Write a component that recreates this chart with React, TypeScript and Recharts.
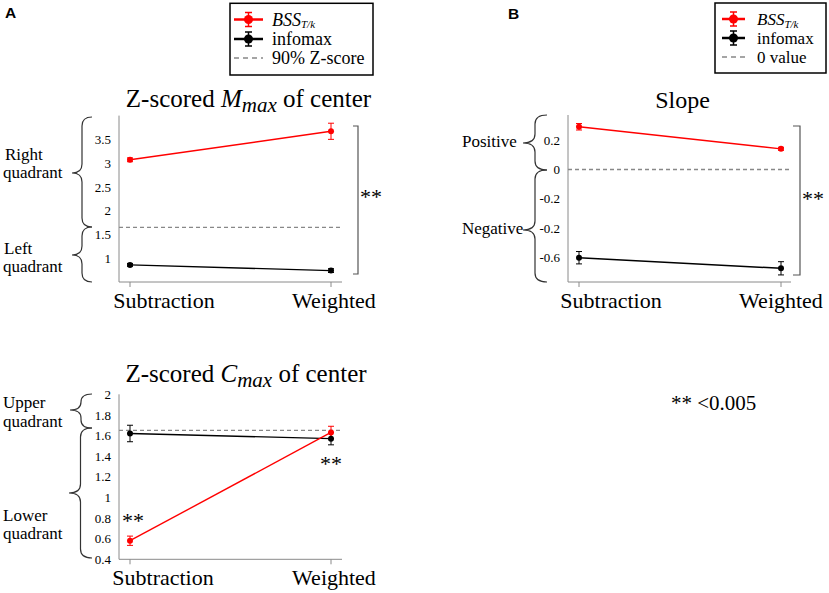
import React from 'react';
import { LineChart, Line, XAxis, YAxis, ReferenceLine, ErrorBar } from 'recharts';

// conditions on the x axis
const categories = ['Subtraction', 'Weighted'];

// Z-scored Mmax of center
const mmaxBss = [3.07, 3.67];
const mmaxBssErr = [0.04, 0.17];
const mmaxInfomax = [0.86, 0.74];
const mmaxInfomaxErr = [0.03, 0.04];
const mmaxTicks = [1, 1.5, 2, 2.5, 3, 3.5];

// Slope
const slopeBss = [0.29, 0.14];
const slopeBssErr = [0.022, 0.01];
const slopeInfomax = [-0.6, -0.672];
const slopeInfomaxErr = [0.042, 0.045];
const slopeTicks = [-0.6, -0.4, -0.2, 0, 0.2];
// the original figure prints "-0.2" twice
const slopeTickLabels = ['-0.6', '-0.2', '-0.2', '0', '0.2'];

// Z-scored Cmax of center
const cmaxBss = [0.58, 1.63];
const cmaxBssErr = [0.045, 0.06];
const cmaxInfomax = [1.62, 1.57];
const cmaxInfomaxErr = [0.08, 0.06];
const cmaxTicks = [0.4, 0.6, 0.8, 1, 1.2, 1.4, 1.6, 1.8, 2];

const zThreshold = 1.65;

const build = (bss: number[], bssErr: number[], info: number[], infoErr: number[]) =>
  categories.map((name, i) => ({ name, bss: bss[i], bssErr: bssErr[i], info: info[i], infoErr: infoErr[i] }));

const mmaxData = build(mmaxBss, mmaxBssErr, mmaxInfomax, mmaxInfomaxErr);
const slopeData = build(slopeBss, slopeBssErr, slopeInfomax, slopeInfomaxErr);
const cmaxData = build(cmaxBss, cmaxBssErr, cmaxInfomax, cmaxInfomaxErr);

const W = 829;
const H = 593;
const SERIF = 'Liberation Serif, Tinos, Times New Roman, DejaVu Serif, serif';
const SANS = 'Liberation Sans, Arimo, Arial, DejaVu Sans, sans-serif';
const AXIS = '#8a8a8a';

const makeTick = (shifts: number[]) => (props: any) => {
  const { x, y, payload, index } = props;
  return (
    <text x={x + (shifts[index] || 0)} y={y} dy="0.71em" textAnchor="middle" fontSize={22} fill="#000" style={{ fontFamily: SERIF }}>
      {payload.value}
    </text>
  );
};

interface PanelProps {
  data: any[];
  margin: { top: number; right: number; bottom: number; left: number };
  domain: [number, number];
  ticks: number[];
  refY: number;
  pad: { left: number; right: number };
  shifts: number[];
  xHeight: number;
  fmt?: (v: number, i: number) => string;
}

const Panel: React.FC<PanelProps> = ({ data, margin, domain, ticks, refY, pad, shifts, xHeight, fmt }) => (
  <div style={{ position: 'absolute', left: 0, top: 0 }}>
    <LineChart width={W} height={H} data={data} margin={margin}>
      <XAxis
        dataKey="name"
        padding={pad}
        stroke={AXIS}
        tickSize={5}
        tickMargin={5}
        height={xHeight}
        tick={makeTick(shifts)}
        interval={0}
      />
      <YAxis
        type="number"
        domain={domain}
        ticks={ticks}
        interval={0}
        allowDataOverflow
        width={40}
        stroke={AXIS}
        tickLine={false}
        tickSize={0}
        tickMargin={8}
        tick={{ fontSize: 13, fill: '#000', style: { fontFamily: SERIF } }}
        tickFormatter={fmt}
      />
      <ReferenceLine y={refY} stroke="#888" strokeDasharray="4 3" strokeWidth={1.4} />
      <Line
        type="linear"
        dataKey="info"
        stroke="#000"
        strokeWidth={1.4}
        dot={{ r: 3, fill: '#000', stroke: '#000', strokeWidth: 0 }}
        isAnimationActive={false}
      >
        <ErrorBar dataKey="infoErr" width={3} stroke="#000" strokeWidth={1} direction="y" isAnimationActive={false} />
      </Line>
      <Line
        type="linear"
        dataKey="bss"
        stroke="#ff0000"
        strokeWidth={1.4}
        dot={{ r: 3, fill: '#ff0000', stroke: '#ff0000', strokeWidth: 0 }}
        isAnimationActive={false}
      >
        <ErrorBar dataKey="bssErr" width={3} stroke="#ff0000" strokeWidth={1} direction="y" isAnimationActive={false} />
      </Line>
    </LineChart>
  </div>
);

// curly brace opening to the right, tip on the left
const brace = (tip: number, w: number, y1: number, y2: number, ym: number) => {
  const xe = tip + w;
  const xm = tip + w / 2;
  const r = Math.min(9, (ym - y1) / 2, (y2 - ym) / 2);
  return `M${xe} ${y1} Q${xm} ${y1} ${xm} ${y1 + r} L${xm} ${ym - r} Q${xm} ${ym} ${tip} ${ym} Q${xm} ${ym} ${xm} ${ym + r} L${xm} ${y2 - r} Q${xm} ${y2} ${xe} ${y2}`;
};

const LegendIcon: React.FC<{ x1: number; x2: number; y: number; color: string }> = ({ x1, x2, y, color }) => {
  const cx = (x1 + x2) / 2;
  return (
    <g>
      <line x1={x1} x2={x2} y1={y} y2={y} stroke={color} strokeWidth={2.5} />
      <line x1={cx} x2={cx} y1={y - 7} y2={y + 7} stroke={color} strokeWidth={1.5} />
      <line x1={cx - 3.5} x2={cx + 3.5} y1={y - 7} y2={y - 7} stroke={color} strokeWidth={1.5} />
      <line x1={cx - 3.5} x2={cx + 3.5} y1={y + 7} y2={y + 7} stroke={color} strokeWidth={1.5} />
      <circle cx={cx} cy={y} r={4.5} fill={color} />
    </g>
  );
};

interface LegendProps {
  x: number; y: number; w: number; h: number;
  ix1: number; ix2: number; tx: number;
  rows: number[]; third: string; fs: number;
}

const Legend: React.FC<LegendProps> = ({ x, y, w, h, ix1, ix2, tx, rows, third, fs }) => (
  <g style={{ fontFamily: SERIF }} fontSize={fs} fill="#000">
    <rect x={x} y={y} width={w} height={h} fill="#fff" stroke="#000" strokeWidth={1.5} />
    <LegendIcon x1={ix1} x2={ix2} y={rows[0]} color="#ff0000" />
    <text x={tx} y={rows[0] + 6}>
      <tspan fontStyle="italic">BSS</tspan>
      <tspan fontStyle="italic" fontSize={11} dy={2.5}>T/k</tspan>
    </text>
    <LegendIcon x1={ix1} x2={ix2} y={rows[1]} color="#000" />
    <text x={tx} y={rows[1] + 6}>infomax</text>
    <line x1={ix1} x2={ix2} y1={rows[2]} y2={rows[2]} stroke="#888" strokeWidth={1.5} strokeDasharray="5 4" />
    <text x={tx} y={rows[2] + 6}>{third}</text>
  </g>
);

const Overlay: React.FC = () => (
  <svg width={W} height={H} style={{ position: 'absolute', left: 0, top: 0 }}>
    <g style={{ fontFamily: SANS }} fontWeight="bold" fontSize={15.5}>
      <text x={5} y={18.3}>A</text>
      <text x={508} y={19}>B</text>
    </g>

    <Legend x={230} y={3.3} w={143} h={71.7} ix1={234} ix2={263} tx={272} rows={[19.5, 39, 58]} third="90% Z-score" fs={18} />
    <Legend x={715} y={3} w={111} h={70} ix1={722} ix2={745} tx={757} rows={[19, 38, 57]} third="0 value" fs={17} />

    <g style={{ fontFamily: SERIF }} fontSize={25} fill="#000" textAnchor="middle">
      <text x={248.5} y={107.3}>
        Z-scored <tspan fontStyle="italic">M</tspan>
        <tspan fontStyle="italic" fontSize={21} dy={5}>max</tspan>
        <tspan dy={-5}> of center</tspan>
      </text>
      <text x={682.5} y={108.3} fontSize={24}>Slope</text>
      <text x={246} y={381.7}>
        Z-scored <tspan fontStyle="italic">C</tspan>
        <tspan fontStyle="italic" fontSize={21} dy={5}>max</tspan>
        <tspan dy={-5}> of center</tspan>
      </text>
    </g>

    <g fill="none" stroke="#333" strokeWidth={1.2}>
      <path d={brace(72, 20, 117, 227, 173)} />
      <path d={brace(72, 20, 227, 282, 255)} />
      <path d={brace(70, 22, 394, 428, 410)} />
      <path d={brace(69, 23, 428, 558, 493)} />
      <path d={brace(523, 24, 115, 170, 143)} />
      <path d={brace(523, 24, 170, 282, 230)} />
      <path d="M353 126 H358 V274 H353" stroke="#555" />
      <path d="M793 126 H800 V275 H793" stroke="#555" />
    </g>

    <g style={{ fontFamily: SERIF }} fontSize={17} fill="#000">
      <text x={5} y={159.7}>Right</text>
      <text x={3} y={178}>quadrant</text>
      <text x={4} y={254}>Left</text>
      <text x={3} y={271.5}>quadrant</text>
      <text x={3} y={408}>Upper</text>
      <text x={3} y={427}>quadrant</text>
      <text x={3} y={521}>Lower</text>
      <text x={3} y={539}>quadrant</text>
      <text x={462} y={146.7}>Positive</text>
      <text x={462} y={234}>Negative</text>
    </g>

    <g style={{ fontFamily: SERIF }} fontSize={22} fill="#000">
      <text x={360} y={204}>**</text>
      <text x={802} y={206}>**</text>
      <text x={122} y={527.5}>**</text>
      <text x={320} y={471}>**</text>
      <text x={671} y={410} fontSize={21}>** &lt;0.005</text>
    </g>
  </svg>
);

export default function App() {
  return (
    <div style={{ position: 'absolute', left: 0, top: 0, width: W, height: H, background: '#fff', fontFamily: SERIF }}>
      <Panel
        data={mmaxData}
        margin={{ top: 115.6, right: W - 342, bottom: H - 282 - 40, left: 79 }}
        domain={[0.5, 4]}
        ticks={mmaxTicks}
        refY={zThreshold}
        pad={{ left: 11, right: 11 }}
        shifts={[34, 3]}
        xHeight={40}
      />
      <Panel
        data={slopeData}
        margin={{ top: 115, right: W - 791, bottom: H - 282 - 40, left: 528 }}
        domain={[-0.765, 0.37]}
        ticks={slopeTicks}
        refY={0}
        pad={{ left: 11, right: 10 }}
        shifts={[32, 0]}
        xHeight={40}
        fmt={(v: number, i: number) => slopeTickLabels[i] ?? String(v)}
      />
      <Panel
        data={cmaxData}
        margin={{ top: 394.3, right: W - 342, bottom: H - 559.3 - 30, left: 79 }}
        domain={[0.4, 2]}
        ticks={cmaxTicks}
        refY={zThreshold}
        pad={{ left: 11, right: 11 }}
        shifts={[33, 3]}
        xHeight={30}
      />
      <Overlay />
    </div>
  );
}
